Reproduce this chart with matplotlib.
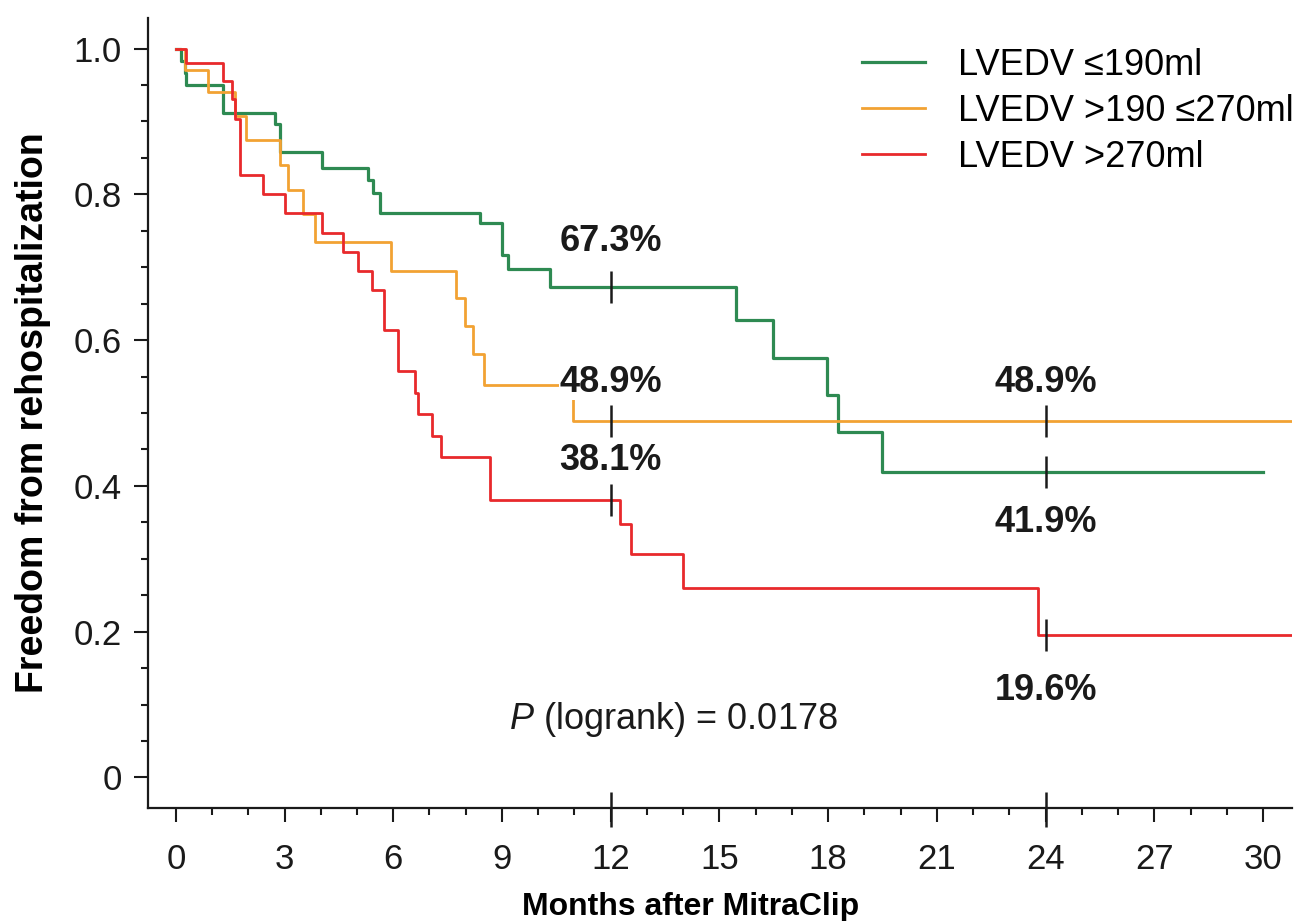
import matplotlib
matplotlib.use("Agg")
import matplotlib.pyplot as plt
from matplotlib.ticker import MultipleLocator, FuncFormatter

plt.rcParams["font.family"] = ["Liberation Sans", "DejaVu Sans"]
plt.rcParams["mathtext.fontset"] = "custom"
plt.rcParams["mathtext.rm"] = "Liberation Sans"
plt.rcParams["mathtext.it"] = "Liberation Sans:italic"

# Kaplan-Meier step data (months, survival)
green_t = [0, 0.15, 0.24, 0.29, 1.30, 2.74, 2.87, 4.02, 5.30, 5.44, 5.63, 8.39, 8.99, 9.17,
           10.32, 15.46, 16.49, 17.96, 18.28, 19.50, 30.0]
green_s = [1.0, 0.983, 0.967, 0.950, 0.911, 0.896, 0.858, 0.836, 0.820, 0.802, 0.775, 0.760,
           0.717, 0.697, 0.673, 0.627, 0.575, 0.524, 0.474, 0.419, 0.419]

orange_t = [0, 0.25, 0.89, 1.64, 1.95, 2.87, 3.10, 3.51, 3.84, 5.95, 7.73, 7.98, 8.21, 8.50,
            10.96, 30.8]
orange_s = [1.0, 0.970, 0.940, 0.908, 0.874, 0.840, 0.806, 0.773, 0.734, 0.695, 0.658, 0.619,
            0.581, 0.538, 0.489, 0.489]

red_t = [0, 0.29, 1.31, 1.54, 1.63, 1.77, 2.41, 3.01, 4.02, 4.62, 5.03, 5.40, 5.74, 6.14,
         6.60, 6.69, 7.06, 7.33, 8.67, 12.25, 12.55, 14.0, 23.8, 30.8]
red_s = [1.0, 0.980, 0.955, 0.931, 0.904, 0.826, 0.801, 0.774, 0.747, 0.721, 0.695, 0.669,
         0.614, 0.558, 0.527, 0.499, 0.468, 0.440, 0.381, 0.347, 0.307, 0.260, 0.196, 0.196]

series_labels = ["LVEDV \u2264190ml", "LVEDV >190 \u2264270ml", "LVEDV >270ml"]
series_colors = ["#2e8a52", "#f2a233", "#e8292c"]

# landmark estimates: (month, value, label offset in points)
landmark_months = [12, 24]
landmark_12 = [0.673, 0.489, 0.381]
landmark_24 = [0.419, 0.489, 0.196]
offsets_12 = [33, 28, 28]
offsets_24 = [-36, 28, -40]

fig = plt.figure(figsize=(13.09, 9.21), dpi=100)
ax = fig.add_axes([0.113, 0.1227, 0.874, 0.8578])

curves = [(green_t, green_s), (orange_t, orange_s), (red_t, red_s)]
widths = [2.3, 2.0, 2.0]
for (t, s), lab, col, lw in zip(curves, series_labels, series_colors, widths):
    ax.step(t, s, where="post", color=col, lw=lw, label=lab, zorder=2)

mark_h = 0.022
for month, vals, offs in [(12, landmark_12, offsets_12), (24, landmark_24, offsets_24)]:
    for v, off in zip(vals, offs):
        ax.vlines(month, v - mark_h, v + mark_h, color="#1a1a1a", lw=1.8, zorder=3)
        ax.annotate(f"{v * 100:.1f}%", xy=(month, v), xytext=(0, off),
                    textcoords="offset points", ha="center", va="center",
                    fontsize=26, fontweight="bold", color="#1a1a1a", zorder=4,
                    bbox=dict(fc="white", ec="none", pad=0.5))

ax.set_xlim(-0.77, 30.8)
ax.set_ylim(-0.042, 1.042)

# long marks crossing the x axis at the landmark months
ax.vlines(landmark_months, -0.068, -0.020, color="#1a1a1a", lw=1.8, clip_on=False, zorder=5)

ax.xaxis.set_major_locator(MultipleLocator(3))
ax.xaxis.set_minor_locator(MultipleLocator(1))
ax.yaxis.set_major_locator(MultipleLocator(0.2))
ax.yaxis.set_minor_locator(MultipleLocator(0.05))
ax.yaxis.set_major_formatter(FuncFormatter(lambda v, p: "0" if abs(v) < 1e-9 else f"{v:.1f}"))

ax.tick_params(which="major", direction="out", length=10, width=1.5, labelsize=25,
               color="#1a1a1a", labelcolor="#1a1a1a")
ax.tick_params(which="minor", direction="out", length=5, width=1.5, color="#1a1a1a")
ax.tick_params(axis="x", which="major", pad=15)
ax.tick_params(axis="y", which="major", pad=9)

for side in ["top", "right"]:
    ax.spines[side].set_visible(False)
for side in ["left", "bottom"]:
    ax.spines[side].set_linewidth(1.6)
    ax.spines[side].set_color("#1a1a1a")

ax.set_xlabel("Months after MitraClip", fontsize=23, fontweight="bold")
ax.set_ylabel("Freedom from rehospitalization", fontsize=27, fontweight="bold")
ax.xaxis.set_label_coords(0.4747, -0.106)
ax.yaxis.set_label_coords(-0.085, 0.5)

ax.text(13.72, 0.08, r"$P$ (logrank) = 0.0178", fontsize=26, ha="center", va="center",
        color="#1a1a1a")

ax.legend(loc="upper left", bbox_to_anchor=(0.624, 0.962), frameon=False, fontsize=26,
          handlelength=1.75, handletextpad=0.9, labelspacing=0.3, borderpad=0,
          borderaxespad=0)

fig.savefig("out.png", dpi=100, facecolor="white")
